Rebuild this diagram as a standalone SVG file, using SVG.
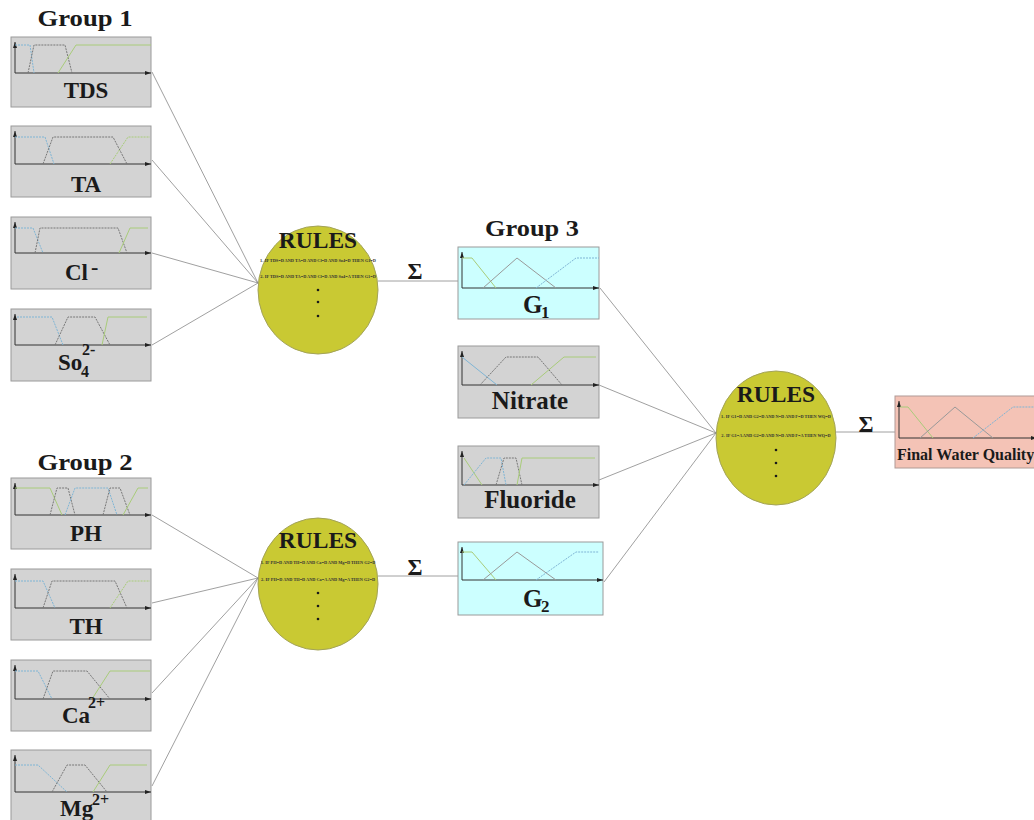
<svg xmlns="http://www.w3.org/2000/svg" width="1034" height="820" viewBox="0 0 1034 820">
<style>
.bg{fill:#d3d3d3;stroke:#9a9a9a;stroke-width:1}
.bc{fill:#ccffff;stroke:#9a9a9a;stroke-width:1}
.bf{fill:#f4c3b6;stroke:#b09a95;stroke-width:1}
.ax{stroke:#333;stroke-width:1;fill:none;marker-end:url(#ah)}
.cb{stroke:#7fb5d5;stroke-width:1;fill:none;stroke-dasharray:2 1}
.cbs{stroke:#7fb5d5;stroke-width:1;fill:none}
.cg{stroke:#777;stroke-width:1;fill:none;stroke-dasharray:2 1}
.cgs{stroke:#999;stroke-width:1;fill:none}
.cn{stroke:#a9cc7a;stroke-width:1;fill:none}
.cnd{stroke:#a9cc7a;stroke-width:1;fill:none;stroke-dasharray:2 1}
.lb{font-family:"Liberation Serif",serif;font-weight:bold;fill:#1a1a1a;text-anchor:middle}
.tt{font-family:"Liberation Serif",serif;font-weight:bold;font-size:23px;fill:#1a1a1a;text-anchor:middle}
.el{fill:#c9c933;stroke:#a3a35a;stroke-width:1}
.ru{font-family:"Liberation Serif",serif;font-weight:bold;font-size:23.5px;fill:#1a1a1a;text-anchor:middle}
.rl{font-family:"Liberation Serif",serif;font-weight:bold;font-size:4.3px;fill:#333;text-anchor:middle}
.dt{fill:#1a1a1a}
.cx{stroke:#888;stroke-width:0.8;fill:none}
.sg{font-family:"Liberation Serif",serif;font-weight:bold;font-size:23px;fill:#1a1a1a;text-anchor:middle}
</style>
<defs>
<marker id="ah" markerWidth="6" markerHeight="4" refX="6" refY="2" orient="auto" markerUnits="userSpaceOnUse">
<path d="M0,0 L6,2 L0,4 Z" fill="#222"/>
</marker>
</defs>

<g id="connectors">
<polyline class="cx" points="152,72 258,283"/>
<polyline class="cx" points="152,160 258,283"/>
<polyline class="cx" points="152,253 258,283"/>
<polyline class="cx" points="152,345 258,283"/>
<polyline class="cx" points="152,515 258,578"/>
<polyline class="cx" points="152,603 258,578"/>
<polyline class="cx" points="152,693 258,578"/>
<polyline class="cx" points="152,786 258,578"/>
<polyline class="cx" points="378,281 458,281"/>
<polyline class="cx" points="378,576 458,576"/>
<polyline class="cx" points="600,288 716,433"/>
<polyline class="cx" points="599,385 716,433"/>
<polyline class="cx" points="599,480 716,433"/>
<polyline class="cx" points="604,582 716,433"/>
<polyline class="cx" points="836,432 895,432"/>
<text class="sg" x="415" y="279">Σ</text>
<text class="sg" x="415" y="575">Σ</text>
<text class="sg" x="866" y="432">Σ</text>
</g>

<g id="titles">
<text class="tt" x="85" y="26" textLength="95" lengthAdjust="spacingAndGlyphs">Group 1</text>
<text class="tt" x="85" y="470" textLength="95" lengthAdjust="spacingAndGlyphs">Group 2</text>
<text class="tt" x="532" y="236" textLength="94" lengthAdjust="spacingAndGlyphs">Group 3</text>
</g>

<g id="tds" transform="translate(11,37)">
<rect class="bg" x="0" y="0" width="140" height="70"/>
<polyline class="ax" points="4,36 4,5"/>
<polyline class="ax" points="4,36 140,36"/>
<polyline class="cb" points="4,8 19,8 23,36"/>
<polyline class="cg" points="17,36 23,8 54,8 61,36"/>
<polyline class="cn" points="47,36 65,8 140,8"/>
<text class="lb" x="75" y="61" style="font-size:23px">TDS</text>
</g>

<g id="ta" transform="translate(11,126)">
<rect class="bg" x="0" y="0" width="140" height="71"/>
<polyline class="ax" points="4,38 4,5"/>
<polyline class="ax" points="4,38 140,38"/>
<polyline class="cb" points="4,11 34,11 43,38"/>
<polyline class="cg" points="32,38 42,11 102,11 116,38"/>
<polyline class="cnd" points="99,38 117,11 139,11"/>
<text class="lb" x="75" y="66" style="font-size:23px">TA</text>
</g>

<g id="cl" transform="translate(11,217)">
<rect class="bg" x="0" y="0" width="140" height="72"/>
<polyline class="ax" points="4,36 4,5"/>
<polyline class="ax" points="4,36 140,36"/>
<polyline class="cb" points="4,11 22,11 32,36"/>
<polyline class="cg" points="24,36 29,11 107,11 116,36"/>
<polyline class="cn" points="108,36 119,11 137,11"/>
<text class="lb" x="54" y="63" style="font-size:23px;text-anchor:start">Cl</text>
<text class="lb" x="80" y="57" style="font-size:22px;text-anchor:start">-</text>
</g>

<g id="so4" transform="translate(11,309)">
<rect class="bg" x="0" y="0" width="140" height="72"/>
<polyline class="ax" points="4,36 4,5"/>
<polyline class="ax" points="4,36 140,36"/>
<polyline class="cb" points="6,8 41,8 52,36"/>
<polyline class="cg" points="44,36 57,8 84,8 99,36"/>
<polyline class="cn" points="91,36 97,8 136,8"/>
<text class="lb" x="47" y="61" style="font-size:23px;text-anchor:start">So</text>
<text class="lb" x="70" y="68" style="font-size:16px;text-anchor:start">4</text>
<text class="lb" x="71" y="46" style="font-size:16px;text-anchor:start">2-</text>
</g>

<g id="ph" transform="translate(11,478)">
<rect class="bg" x="0" y="0" width="140" height="71"/>
<polyline class="ax" points="4,37 4,5"/>
<polyline class="ax" points="4,37 140,37"/>
<polyline class="cn" points="4,10 39,10 51,37"/>
<polyline class="cg" points="39,37 46,10 57,10 64,37"/>
<polyline class="cb" points="54,37 64,10 97,10 106,37"/>
<polyline class="cg" points="92,37 99,10 109,10 119,37"/>
<polyline class="cn" points="112,37 127,10 137,10"/>
<text class="lb" x="75" y="63" style="font-size:23px">PH</text>
</g>

<g id="th" transform="translate(11,569)">
<rect class="bg" x="0" y="0" width="140" height="71"/>
<polyline class="ax" points="4,39 4,5"/>
<polyline class="ax" points="4,39 140,39"/>
<polyline class="cb" points="4,12 32,12 44,39"/>
<polyline class="cg" points="32,39 41,12 104,12 116,39"/>
<polyline class="cnd" points="99,39 117,12 139,12"/>
<text class="lb" x="75" y="65" style="font-size:23px">TH</text>
</g>

<g id="ca" transform="translate(11,660)">
<rect class="bg" x="0" y="0" width="140" height="71"/>
<polyline class="ax" points="4,39 4,5"/>
<polyline class="ax" points="4,39 140,39"/>
<polyline class="cb" points="4,11 27,11 41,39"/>
<polyline class="cg" points="32,39 42,11 76,11 99,39"/>
<polyline class="cn" points="81,39 99,11 139,11"/>
<text class="lb" x="51" y="63" style="font-size:23px;text-anchor:start">Ca</text>
<text class="lb" x="77" y="48" style="font-size:16px;text-anchor:start">2+</text>
</g>

<g id="mg" transform="translate(11,750)">
<rect class="bg" x="0" y="0" width="140" height="75"/>
<polyline class="ax" points="4,42 4,5"/>
<polyline class="ax" points="4,42 140,42"/>
<polyline class="cb" points="4,15 27,15 56,42"/>
<polyline class="cg" points="41,42 56,15 74,15 96,42"/>
<polyline class="cn" points="82,42 99,15 136,15"/>
<text class="lb" x="49" y="66" style="font-size:23px;text-anchor:start">Mg</text>
<text class="lb" x="81" y="55" style="font-size:16px;text-anchor:start">2+</text>
</g>

<g id="rules1">
<ellipse class="el" cx="318" cy="290" rx="60" ry="64"/>
<text class="ru" x="318" y="248">RULES</text>
<text class="rl" x="318" y="262">1- IF TDS=D AND TA=D AND Cl=D AND So4=D THEN G1=D</text>
<text class="rl" x="318" y="278">2- IF TDS=D AND TA=D AND Cl=D AND So4=A THEN G1=D</text>
<circle class="dt" cx="318" cy="290" r="1.3"/>
<circle class="dt" cx="318" cy="302" r="1.3"/>
<circle class="dt" cx="318" cy="316" r="1.3"/>
</g>

<g id="rules2">
<ellipse class="el" cx="318" cy="584" rx="60" ry="66"/>
<text class="ru" x="318" y="548">RULES</text>
<text class="rl" x="318" y="564">1- IF PH=D AND TH=D AND Ca=D AND Mg=D THEN G2=D</text>
<text class="rl" x="318" y="581">2- IF PH=D AND TH=D AND Ca=A AND Mg=A THEN G2=D</text>
<circle class="dt" cx="318" cy="593" r="1.3"/>
<circle class="dt" cx="318" cy="606" r="1.3"/>
<circle class="dt" cx="318" cy="619" r="1.3"/>
</g>

<g id="g1" transform="translate(458,247)">
<rect class="bc" x="0" y="0" width="141" height="72"/>
<polyline class="ax" points="4,41 4,5"/>
<polyline class="ax" points="4,41 141,41"/>
<polyline class="cn" points="4,11 14,11 38,41"/>
<polyline class="cgs" points="25,41 59,11 98,41"/>
<polyline class="cb" points="78,41 118,11 141,11"/>
<text class="lb" x="65" y="66" style="font-size:25px;text-anchor:start">G</text>
<text class="lb" x="83" y="71" style="font-size:17px;text-anchor:start">1</text>
</g>

<g id="nitrate" transform="translate(458,346)">
<rect class="bg" x="0" y="0" width="141" height="72"/>
<polyline class="ax" points="4,39 4,5"/>
<polyline class="ax" points="4,39 141,39"/>
<polyline class="cbs" points="4,11 39,39"/>
<polyline class="cg" points="22,39 48,11 80,11 104,39"/>
<polyline class="cn" points="73,39 106,11 138,11"/>
<text class="lb" x="72" y="63" style="font-size:25px">Nitrate</text>
</g>

<g id="fluoride" transform="translate(458,446)">
<rect class="bg" x="0" y="0" width="141" height="72"/>
<polyline class="ax" points="4,39 4,5"/>
<polyline class="ax" points="4,39 141,39"/>
<polyline class="cn" points="6,12 24,39"/>
<polyline class="cb" points="6,39 28,12 43,12 48,39"/>
<polyline class="cg" points="38,39 46,12 58,12 64,39"/>
<polyline class="cn" points="59,39 64,12 137,12"/>
<text class="lb" x="72" y="62" style="font-size:25px">Fluoride</text>
</g>

<g id="g2" transform="translate(458,542)">
<rect class="bc" x="0" y="0" width="145" height="73"/>
<polyline class="ax" points="4,38 4,5"/>
<polyline class="ax" points="4,38 145,38"/>
<polyline class="cn" points="4,10 14,10 38,38"/>
<polyline class="cgs" points="25,38 59,10 98,38"/>
<polyline class="cb" points="78,38 118,10 141,10"/>
<text class="lb" x="65" y="65" style="font-size:25px;text-anchor:start">G</text>
<text class="lb" x="83" y="70" style="font-size:17px;text-anchor:start">2</text>
</g>

<g id="rules3">
<ellipse class="el" cx="776" cy="438" rx="60" ry="67"/>
<text class="ru" x="776" y="402">RULES</text>
<text class="rl" x="776" y="418">1- IF G1=D AND G2=D AND N=D AND F=D THEN WQ=D</text>
<text class="rl" x="776" y="437">2- IF G1=A AND G2=D AND N=D AND F=A THEN WQ=D</text>
<circle class="dt" cx="776" cy="450" r="1.3"/>
<circle class="dt" cx="776" cy="463" r="1.3"/>
<circle class="dt" cx="776" cy="476" r="1.3"/>
</g>

<g id="final" transform="translate(895,396)">
<rect class="bf" x="0" y="0" width="145" height="72"/>
<polyline class="ax" points="4,42 4,5"/>
<polyline class="ax" points="4,42 142,42"/>
<polyline class="cn" points="5,11 13,11 38,42"/>
<polyline class="cgs" points="25,42 60,11 98,42"/>
<polyline class="cb" points="78,42 118,11 141,11"/>
<text class="lb" x="2" y="64" style="font-size:16px;text-anchor:start">Final Water Quality</text>
</g>
</svg>
